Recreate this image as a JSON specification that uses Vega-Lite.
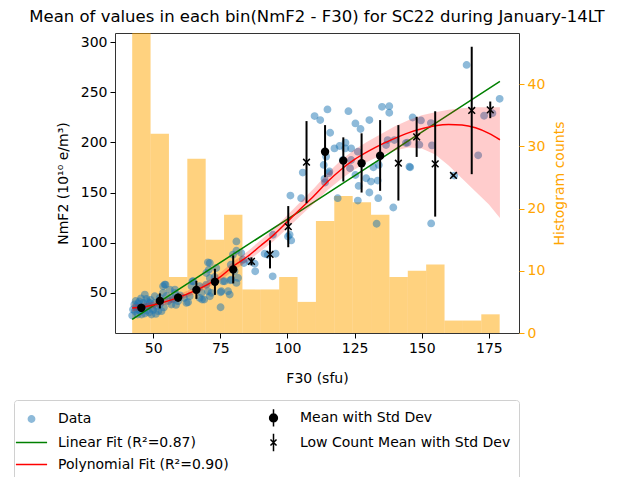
{
  "$schema": "https://vega.github.io/schema/vega-lite/v6.json",
  "width": 404,
  "height": 300,
  "autosize": {"type": "none"},
  "padding": {"left": 115, "top": 33, "right": 105, "bottom": 144},
  "title": {"text": "Mean of values in each bin(NmF2 - F30) for SC22 during January-14LT", "fontSize": 16.5, "fontWeight": "normal", "font": "DejaVu Sans", "anchor": "middle", "offset": 8, "color": "black"},
  "config": {
    "font": "DejaVu Sans",
    "view": {"stroke": "#333333", "strokeWidth": 1},
    "axis": {"labelFont": "DejaVu Sans", "titleFont": "DejaVu Sans", "labelFontSize": 14, "titleFontSize": 14, "titleFontWeight": "normal", "labelColor": "black", "titleColor": "black", "tickColor": "black", "tickSize": 5, "grid": false, "domain": false, "labelPadding": 3},
    "legend": {"symbolStrokeWidth": 1.5}
  },
  "datasets": {
    "hist": [
      {"F30": 42.2, "F30_end": 49.04, "count": 52},
      {"F30": 49.04, "F30_end": 55.88, "count": 32},
      {"F30": 55.88, "F30_end": 62.72, "count": 9},
      {"F30": 62.72, "F30_end": 69.56, "count": 28},
      {"F30": 69.56, "F30_end": 76.4, "count": 15},
      {"F30": 76.4, "F30_end": 83.24, "count": 19},
      {"F30": 83.24, "F30_end": 90.08, "count": 7},
      {"F30": 90.08, "F30_end": 96.92, "count": 7},
      {"F30": 96.92, "F30_end": 103.76, "count": 9},
      {"F30": 103.76, "F30_end": 110.6, "count": 5},
      {"F30": 110.6, "F30_end": 117.44, "count": 18},
      {"F30": 117.44, "F30_end": 124.28, "count": 22},
      {"F30": 124.28, "F30_end": 131.12, "count": 21},
      {"F30": 131.12, "F30_end": 137.96, "count": 19},
      {"F30": 137.96, "F30_end": 144.8, "count": 9},
      {"F30": 144.8, "F30_end": 151.64, "count": 10},
      {"F30": 151.64, "F30_end": 158.48, "count": 11},
      {"F30": 158.48, "F30_end": 165.32, "count": 2},
      {"F30": 165.32, "F30_end": 172.16, "count": 2},
      {"F30": 172.16, "F30_end": 179.0, "count": 3}
    ],
    "pts": [
      {"F30": 42.2, "NmF2": 27.4}, {"F30": 43.2, "NmF2": 31.8}, {"F30": 43.8, "NmF2": 36.7}, {"F30": 44.4, "NmF2": 39.4},
      {"F30": 43.0, "NmF2": 38.4}, {"F30": 46.3, "NmF2": 40.0}, {"F30": 46.9, "NmF2": 35.1}, {"F30": 47.5, "NmF2": 44.0},
      {"F30": 48.2, "NmF2": 36.7}, {"F30": 48.8, "NmF2": 40.0}, {"F30": 49.6, "NmF2": 35.1}, {"F30": 50.6, "NmF2": 40.0},
      {"F30": 51.3, "NmF2": 36.7}, {"F30": 45.1, "NmF2": 31.8}, {"F30": 44.2, "NmF2": 28.4}, {"F30": 45.7, "NmF2": 28.4},
      {"F30": 46.9, "NmF2": 29.4}, {"F30": 49.4, "NmF2": 28.4}, {"F30": 51.9, "NmF2": 31.8}, {"F30": 53.1, "NmF2": 31.8},
      {"F30": 53.7, "NmF2": 56.6}, {"F30": 53.7, "NmF2": 50.0}, {"F30": 54.6, "NmF2": 58.2}, {"F30": 56.2, "NmF2": 53.3},
      {"F30": 57.4, "NmF2": 45.0}, {"F30": 58.1, "NmF2": 50.0}, {"F30": 62.4, "NmF2": 40.0}, {"F30": 61.5, "NmF2": 45.0},
      {"F30": 63.6, "NmF2": 46.6}, {"F30": 64.9, "NmF2": 61.6}, {"F30": 64.3, "NmF2": 56.6}, {"F30": 67.3, "NmF2": 56.6},
      {"F30": 68.0, "NmF2": 50.0}, {"F30": 69.0, "NmF2": 43.3}, {"F30": 67.3, "NmF2": 45.0}, {"F30": 70.4, "NmF2": 80.4},
      {"F30": 69.8, "NmF2": 69.8}, {"F30": 70.4, "NmF2": 51.6}, {"F30": 71.1, "NmF2": 46.6}, {"F30": 69.8, "NmF2": 58.2},
      {"F30": 75.4, "NmF2": 51.6}, {"F30": 75.1, "NmF2": 35.7}, {"F30": 76.6, "NmF2": 61.6}, {"F30": 77.9, "NmF2": 51.6},
      {"F30": 79.1, "NmF2": 63.2}, {"F30": 79.7, "NmF2": 88.1}, {"F30": 78.9, "NmF2": 78.1},
      {"F30": 46.9, "NmF2": 48.3}, {"F30": 50.6, "NmF2": 46.6}, {"F30": 52.5, "NmF2": 45.0}, {"F30": 55.6, "NmF2": 41.7},
      {"F30": 56.8, "NmF2": 38.4}, {"F30": 59.3, "NmF2": 41.7},
      {"F30": 44.0, "NmF2": 33.5}, {"F30": 45.0, "NmF2": 35.0}, {"F30": 47.5, "NmF2": 32.5}, {"F30": 48.5, "NmF2": 30.5},
      {"F30": 50.0, "NmF2": 33.0}, {"F30": 52.5, "NmF2": 38.5}, {"F30": 54.0, "NmF2": 35.5}, {"F30": 43.5, "NmF2": 42.0},
      {"F30": 45.5, "NmF2": 44.5}, {"F30": 49.0, "NmF2": 43.0}, {"F30": 51.0, "NmF2": 29.0}, {"F30": 53.0, "NmF2": 42.0},
      {"F30": 42.5, "NmF2": 33.5}, {"F30": 44.8, "NmF2": 41.5}, {"F30": 46.0, "NmF2": 37.5}, {"F30": 48.0, "NmF2": 41.5},
      {"F30": 55.0, "NmF2": 47.0}, {"F30": 57.5, "NmF2": 43.5}, {"F30": 60.0, "NmF2": 47.5}, {"F30": 58.5, "NmF2": 38.0},
      {"F30": 68.2, "NmF2": 43.3}, {"F30": 63.0, "NmF2": 40.7}, {"F30": 64.6, "NmF2": 61.5}, {"F30": 54.3, "NmF2": 58.3},
      {"F30": 58.1, "NmF2": 53.3}, {"F30": 72.9, "NmF2": 65.9}, {"F30": 70.7, "NmF2": 73.1}, {"F30": 75.1, "NmF2": 50.6},
      {"F30": 78.5, "NmF2": 48.3}, {"F30": 81.6, "NmF2": 64.9}, {"F30": 81.0, "NmF2": 59.9}, {"F30": 71.7, "NmF2": 50.0},
      {"F30": 80.3, "NmF2": 71.5}, {"F30": 71.1, "NmF2": 64.9}, {"F30": 73.5, "NmF2": 74.8}, {"F30": 71.1, "NmF2": 79.8},
      {"F30": 83.4, "NmF2": 83.1}, {"F30": 78.7, "NmF2": 62.5}, {"F30": 76.0, "NmF2": 61.5},
      {"F30": 81.0, "NmF2": 101.3}, {"F30": 81.0, "NmF2": 92.0}, {"F30": 82.8, "NmF2": 89.7}, {"F30": 83.8, "NmF2": 79.8},
      {"F30": 85.9, "NmF2": 81.4}, {"F30": 87.8, "NmF2": 79.1}, {"F30": 88.0, "NmF2": 71.5}, {"F30": 91.5, "NmF2": 89.0},
      {"F30": 92.7, "NmF2": 88.0}, {"F30": 95.6, "NmF2": 89.0}, {"F30": 94.5, "NmF2": 66.5}, {"F30": 94.6, "NmF2": 107.9},
      {"F30": 100.2, "NmF2": 106.2}, {"F30": 100.8, "NmF2": 107.9}, {"F30": 101.4, "NmF2": 102.3}, {"F30": 101.1, "NmF2": 147.0},
      {"F30": 105.1, "NmF2": 144.4}, {"F30": 105.7, "NmF2": 169.9},
      {"F30": 110.1, "NmF2": 226.2}, {"F30": 112.2, "NmF2": 222.2}, {"F30": 114.9, "NmF2": 232.8}, {"F30": 115.9, "NmF2": 209.6},
      {"F30": 122.7, "NmF2": 231.1}, {"F30": 125.3, "NmF2": 218.9}, {"F30": 127.2, "NmF2": 213.3}, {"F30": 130.5, "NmF2": 222.2},
      {"F30": 135.2, "NmF2": 235.4}, {"F30": 137.9, "NmF2": 236.1}, {"F30": 137.9, "NmF2": 229.5}, {"F30": 114.4, "NmF2": 185.8},
      {"F30": 113.8, "NmF2": 163.6}, {"F30": 115.4, "NmF2": 169.2}, {"F30": 117.5, "NmF2": 194.0}, {"F30": 119.4, "NmF2": 196.4},
      {"F30": 121.6, "NmF2": 199.7}, {"F30": 121.5, "NmF2": 194.0}, {"F30": 123.7, "NmF2": 194.0}, {"F30": 120.6, "NmF2": 182.4},
      {"F30": 123.7, "NmF2": 182.4}, {"F30": 123.3, "NmF2": 174.2}, {"F30": 126.2, "NmF2": 190.7}, {"F30": 125.3, "NmF2": 167.5},
      {"F30": 126.5, "NmF2": 156.6}, {"F30": 129.3, "NmF2": 164.2}, {"F30": 131.1, "NmF2": 160.9}, {"F30": 133.6, "NmF2": 161.9},
      {"F30": 132.0, "NmF2": 175.2}, {"F30": 134.0, "NmF2": 177.5}, {"F30": 137.3, "NmF2": 202.3}, {"F30": 136.7, "NmF2": 197.4},
      {"F30": 139.8, "NmF2": 202.3}, {"F30": 144.7, "NmF2": 199.7}, {"F30": 145.4, "NmF2": 175.8}, {"F30": 130.5, "NmF2": 150.0},
      {"F30": 133.8, "NmF2": 144.4}, {"F30": 139.4, "NmF2": 135.1}, {"F30": 118.7, "NmF2": 144.4}, {"F30": 126.2, "NmF2": 142.0},
      {"F30": 133.2, "NmF2": 118.9}, {"F30": 113.5, "NmF2": 177.5}, {"F30": 114.0, "NmF2": 160.0}, {"F30": 115.6, "NmF2": 171.0},
      {"F30": 166.7, "NmF2": 277.2}, {"F30": 179.0, "NmF2": 243.4}, {"F30": 146.6, "NmF2": 224.8}, {"F30": 149.7, "NmF2": 221.9},
      {"F30": 153.4, "NmF2": 219.2}, {"F30": 144.1, "NmF2": 199.3}, {"F30": 149.1, "NmF2": 197.7}, {"F30": 153.8, "NmF2": 197.0},
      {"F30": 173.2, "NmF2": 226.5}, {"F30": 176.3, "NmF2": 229.1}, {"F30": 171.0, "NmF2": 187.1}, {"F30": 145.7, "NmF2": 175.1},
      {"F30": 162.1, "NmF2": 166.9}, {"F30": 153.5, "NmF2": 119.2}
    ],
    "linfit": [
      {"F30": 42.2, "NmF2": 23.5},
      {"F30": 110.0, "NmF2": 140.8},
      {"F30": 179.1, "NmF2": 260.7}
    ],
    "polyfit": [
      {"F30": 42.2, "NmF2": 35.0, "lo": 31.5, "hi": 38.5},
      {"F30": 46, "NmF2": 36.0, "lo": 32.8, "hi": 39.2},
      {"F30": 50, "NmF2": 38.0, "lo": 35.0, "hi": 41.0},
      {"F30": 55, "NmF2": 41.5, "lo": 38.5, "hi": 44.5},
      {"F30": 60, "NmF2": 46.0, "lo": 43.0, "hi": 49.0},
      {"F30": 65, "NmF2": 51.5, "lo": 48.3, "hi": 54.7},
      {"F30": 70, "NmF2": 58.0, "lo": 54.5, "hi": 61.5},
      {"F30": 75, "NmF2": 66.0, "lo": 62.0, "hi": 70.0},
      {"F30": 80, "NmF2": 77.0, "lo": 72.5, "hi": 81.5},
      {"F30": 85, "NmF2": 86.0, "lo": 81.0, "hi": 91.0},
      {"F30": 90, "NmF2": 97.0, "lo": 91.5, "hi": 102.5},
      {"F30": 95, "NmF2": 108.0, "lo": 102.0, "hi": 114.0},
      {"F30": 100, "NmF2": 121.0, "lo": 114.5, "hi": 127.5},
      {"F30": 105, "NmF2": 134.0, "lo": 127.0, "hi": 141.0},
      {"F30": 110, "NmF2": 147.0, "lo": 139.5, "hi": 154.5},
      {"F30": 115, "NmF2": 161.0, "lo": 152.5, "hi": 169.5},
      {"F30": 120, "NmF2": 173.0, "lo": 163.5, "hi": 182.5},
      {"F30": 125, "NmF2": 183.0, "lo": 173.0, "hi": 193.0},
      {"F30": 130, "NmF2": 191.0, "lo": 181.0, "hi": 201.0},
      {"F30": 135, "NmF2": 198.0, "lo": 187.5, "hi": 208.5},
      {"F30": 140, "NmF2": 204.0, "lo": 192.0, "hi": 216.0},
      {"F30": 145, "NmF2": 209.5, "lo": 195.0, "hi": 222.0},
      {"F30": 150, "NmF2": 213.5, "lo": 194.0, "hi": 227.0},
      {"F30": 155, "NmF2": 216.5, "lo": 188.0, "hi": 230.0},
      {"F30": 160, "NmF2": 217.8, "lo": 177.0, "hi": 232.5},
      {"F30": 165, "NmF2": 217.3, "lo": 164.0, "hi": 234.0},
      {"F30": 170, "NmF2": 214.5, "lo": 151.0, "hi": 235.0},
      {"F30": 175, "NmF2": 209.0, "lo": 138.0, "hi": 235.0},
      {"F30": 179.1, "NmF2": 202.6, "lo": 124.5, "hi": 235.0}
    ],
    "means": [
      {"F30": 45.6, "NmF2": 35.1, "lo": 31.1, "hi": 39.1, "type": "Mean"},
      {"F30": 52.5, "NmF2": 42.0, "lo": 34.5, "hi": 49.5, "type": "Mean"},
      {"F30": 59.3, "NmF2": 45.3, "lo": 41.3, "hi": 49.3, "type": "Mean"},
      {"F30": 66.1, "NmF2": 53.0, "lo": 44.0, "hi": 62.0, "type": "Mean"},
      {"F30": 73.0, "NmF2": 61.0, "lo": 48.0, "hi": 74.0, "type": "Mean"},
      {"F30": 79.8, "NmF2": 73.4, "lo": 59.4, "hi": 87.4, "type": "Mean"},
      {"F30": 86.6, "NmF2": 81.4, "lo": 77.4, "hi": 85.4, "type": "Low"},
      {"F30": 93.5, "NmF2": 88.4, "lo": 74.4, "hi": 102.4, "type": "Low"},
      {"F30": 100.3, "NmF2": 116.0, "lo": 95.5, "hi": 136.5, "type": "Low"},
      {"F30": 107.1, "NmF2": 180.2, "lo": 139.4, "hi": 221.2, "type": "Low"},
      {"F30": 114.0, "NmF2": 190.7, "lo": 165.3, "hi": 217.2, "type": "Mean"},
      {"F30": 120.8, "NmF2": 181.8, "lo": 161.0, "hi": 205.0, "type": "Mean"},
      {"F30": 127.6, "NmF2": 179.2, "lo": 150.0, "hi": 209.0, "type": "Mean"},
      {"F30": 134.5, "NmF2": 186.7, "lo": 151.7, "hi": 222.2, "type": "Mean"},
      {"F30": 141.3, "NmF2": 179.2, "lo": 142.0, "hi": 217.2, "type": "Low"},
      {"F30": 148.1, "NmF2": 205.5, "lo": 185.5, "hi": 225.5, "type": "Low"},
      {"F30": 155.0, "NmF2": 178.5, "lo": 126.0, "hi": 231.0, "type": "Low"},
      {"F30": 161.8, "NmF2": 167.0, "lo": 167.0, "hi": 167.0, "type": "Low"},
      {"F30": 168.6, "NmF2": 231.8, "lo": 168.3, "hi": 295.3, "type": "Low"},
      {"F30": 175.5, "NmF2": 232.4, "lo": 224.1, "hi": 240.7, "type": "Low"}
    ]
  },
  "encoding": {
    "x": {"field": "F30", "type": "quantitative", "scale": {"domain": [35.8, 186.2], "nice": false, "zero": false},
          "axis": {"title": "F30 (sfu)", "values": [50, 75, 100, 125, 150, 175], "titlePadding": 16}}
  },
  "layer": [
    {
      "data": {"name": "hist"},
      "mark": {"type": "rect", "color": "#FFA500", "opacity": 0.5, "clip": true},
      "encoding": {
        "x2": {"field": "F30_end"},
        "y": {"field": "count", "type": "quantitative", "scale": {"domain": [0, 48.2], "nice": false},
              "axis": {"orient": "right", "title": "Histogram counts", "values": [0, 10, 20, 30, 40], "labelColor": "#FFA500", "titleColor": "#FFA500", "tickColor": "#FFA500", "titlePadding": 8, "titleAngle": 270, "titleBaseline": "top"}},
        "y2": {"datum": 0}
      }
    },
    {
      "encoding": {
        "y": {"field": "NmF2", "type": "quantitative", "scale": {"domain": [10, 309], "nice": false, "zero": false},
              "axis": {"orient": "left", "title": "NmF2 (10¹⁰ e/m³)", "values": [50, 100, 150, 200, 250, 300], "titlePadding": 10}}
      },
      "layer": [
        {
          "data": {"name": "pts"},
          "mark": {"type": "point", "filled": true, "strokeWidth": 1.5},
          "encoding": {
            "color": {"datum": "Data", "type": "nominal",
              "scale": {"domain": ["Data", "Linear Fit (R²=0.87)", "Polynomial Fit (R²=0.90)", "Mean with Std Dev", "Low Count Mean with Std Dev"],
                        "range": ["#1f77b4", "green", "red", "black", "black"]},
              "legend": {
                "title": null, "orient": "none", "legendX": -101, "legendY": 367, "columns": 2, "columnPadding": 35, "rowPadding": 0,
                "direction": "vertical",
                "labelFont": "DejaVu Sans", "labelFontSize": 14, "labelColor": "black", "labelLimit": 600, "labelOffset": 17,
                "labelExpr": "datum.label === 'Low Count Mean with Std Dev' ? datum.label + '\u00a0\u00a0\u00a0\u00a0\u00a0\u00a0\u00a0\u00a0\u00a0\u00a0\u00a0\u00a0\u00a0\u00a0\u00a0\u00a0\u00a0\u00a0\u00a0\u00a0\u00a0\u00a0\u00a0' : datum.label",
                "padding": 8, "strokeColor": "#d0d0d0", "fillColor": "white", "cornerRadius": 3, "symbolStrokeWidth": 1.5
              }
            },
            "stroke": {"datum": "Data", "type": "nominal",
              "scale": {"domain": ["Data", "Linear Fit (R²=0.87)", "Polynomial Fit (R²=0.90)", "Mean with Std Dev", "Low Count Mean with Std Dev"],
                        "range": ["#1f77b4", "green", "red", "black", "black"]}
            },
            "shape": {"datum": "Data", "type": "nominal",
              "scale": {"domain": ["Data", "Linear Fit (R²=0.87)", "Polynomial Fit (R²=0.90)", "Mean with Std Dev", "Low Count Mean with Std Dev"],
                        "range": ["circle", "M-1.8,0L1.8,0", "M-1.8,0L1.8,0", "M0,-1L0,1M-0.45,0A0.45,0.45,0,1,0,0.45,0A0.45,0.45,0,1,0,-0.45,0Z", "M0,-1L0,1M-0.35,-0.35L0.35,0.35M-0.35,0.35L0.35,-0.35"]}
            },
            "size": {"datum": "Data", "type": "nominal",
              "scale": {"type": "ordinal", "domain": ["Data", "Linear Fit (R²=0.87)", "Polynomial Fit (R²=0.90)", "Mean with Std Dev", "Low Count Mean with Std Dev"],
                        "range": [40, 300, 300, 300, 300]}
            },
            "opacity": {"datum": "Data", "type": "nominal",
              "scale": {"type": "ordinal", "domain": ["Data", "Linear Fit (R²=0.87)", "Polynomial Fit (R²=0.90)", "Mean with Std Dev", "Low Count Mean with Std Dev"],
                        "range": [0.5, 1, 1, 1, 1]}
            }
          }
        },
        {
          "data": {"name": "linfit"},
          "mark": {"type": "line", "color": "green", "strokeWidth": 1.5},
          "encoding": {}
        },
        {
          "data": {"name": "polyfit"},
          "mark": {"type": "area", "color": "red", "opacity": 0.2},
          "encoding": {
            "y": {"field": "lo", "type": "quantitative", "scale": {"domain": [10, 309], "nice": false, "zero": false},
                  "axis": {"orient": "left", "title": "NmF2 (10¹⁰ e/m³)", "values": [50, 100, 150, 200, 250, 300], "titlePadding": 10}},
            "y2": {"field": "hi"}
          }
        },
        {
          "data": {"name": "polyfit"},
          "mark": {"type": "line", "color": "red", "strokeWidth": 1.5, "interpolate": "monotone"},
          "encoding": {}
        },
        {
          "data": {"name": "means"},
          "mark": {"type": "rule", "color": "black", "strokeWidth": 2},
          "encoding": {
            "y": {"field": "lo", "type": "quantitative", "scale": {"domain": [10, 309], "nice": false, "zero": false},
                  "axis": {"orient": "left", "title": "NmF2 (10¹⁰ e/m³)", "values": [50, 100, 150, 200, 250, 300], "titlePadding": 10}},
            "y2": {"field": "hi"}
          }
        },
        {
          "data": {"name": "means"},
          "transform": [{"filter": "datum.type === 'Mean'"}],
          "mark": {"type": "point", "filled": true, "color": "black", "opacity": 1, "size": 70, "shape": "circle"},
          "encoding": {}
        },
        {
          "data": {"name": "means"},
          "transform": [{"filter": "datum.type === 'Low'"}],
          "mark": {"type": "point", "filled": false, "color": "black", "opacity": 1, "size": 45, "strokeWidth": 1.5, "shape": "M-1,-1L1,1M-1,1L1,-1"},
          "encoding": {}
        }
      ]
    }
  ],
  "resolve": {"scale": {"y": "independent"}}
}
